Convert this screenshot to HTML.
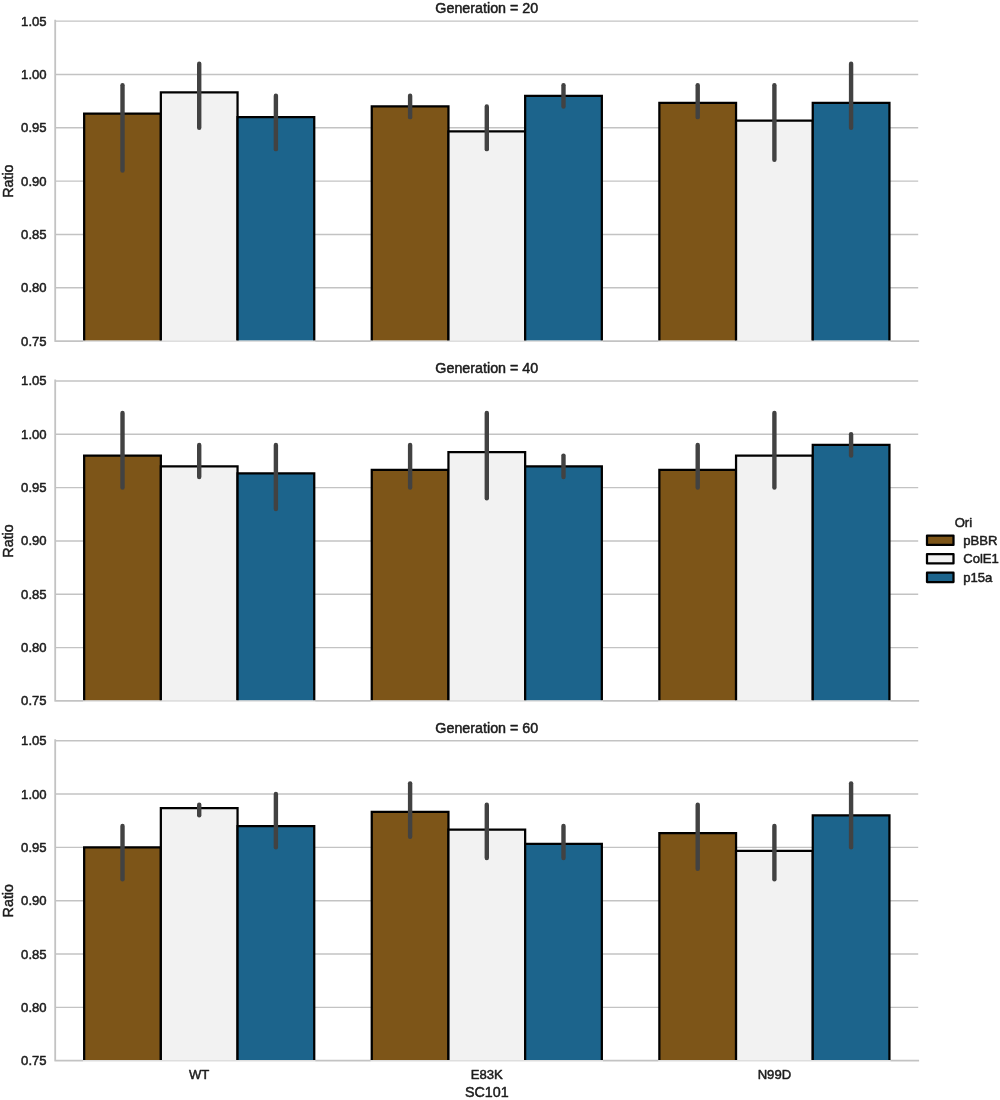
<!DOCTYPE html>
<html lang="en">
<head>
<meta charset="utf-8">
<title>Ratio by SC101 and Ori across generations</title>
<style>
html,body{margin:0;padding:0;background:#ffffff;}
body{width:1000px;height:1100px;overflow:hidden;font-family:"Liberation Sans",Arial,Helvetica,sans-serif;}
svg{display:block;}
</style>
</head>
<body>
<svg width="1000" height="1100" viewBox="0 0 1000 1100" font-family="'Liberation Sans', Arial, Helvetica, sans-serif" fill="#1c1c1c" stroke="#1c1c1c" stroke-width="0.5" stroke-linejoin="round">
<rect width="1000" height="1100" fill="#ffffff" stroke="none"/>
<g>
<line x1="55.4" x2="918.2" y1="21.15" y2="21.15" stroke="#c3c3c3" stroke-width="1.4"/>
<line x1="55.4" x2="918.2" y1="74.48" y2="74.48" stroke="#c3c3c3" stroke-width="1.4"/>
<line x1="55.4" x2="918.2" y1="127.82" y2="127.82" stroke="#c3c3c3" stroke-width="1.4"/>
<line x1="55.4" x2="918.2" y1="181.15" y2="181.15" stroke="#c3c3c3" stroke-width="1.4"/>
<line x1="55.4" x2="918.2" y1="234.48" y2="234.48" stroke="#c3c3c3" stroke-width="1.4"/>
<line x1="55.4" x2="918.2" y1="287.82" y2="287.82" stroke="#c3c3c3" stroke-width="1.4"/>
<path d="M55.2 20.55V341.15H918.2" fill="none" stroke="#c3c3c3" stroke-width="1.8" stroke-linecap="square"/>
<rect x="84.16" y="113.63" width="76.69" height="226.82" fill="#7d5518" stroke="none"/>
<path d="M84.16 340.45V113.63H160.85V340.45" fill="none" stroke="#000000" stroke-width="2.25" stroke-linejoin="miter"/>
<rect x="160.85" y="92.3" width="76.69" height="248.15" fill="#f2f2f2" stroke="none"/>
<path d="M160.85 340.45V92.3H237.55V340.45" fill="none" stroke="#000000" stroke-width="2.25" stroke-linejoin="miter"/>
<rect x="237.55" y="117.15" width="76.69" height="223.3" fill="#1c648c" stroke="none"/>
<path d="M237.55 340.45V117.15H314.24V340.45" fill="none" stroke="#000000" stroke-width="2.25" stroke-linejoin="miter"/>
<rect x="371.76" y="106.48" width="76.69" height="233.97" fill="#7d5518" stroke="none"/>
<path d="M371.76 340.45V106.48H448.45V340.45" fill="none" stroke="#000000" stroke-width="2.25" stroke-linejoin="miter"/>
<rect x="448.45" y="131.34" width="76.69" height="209.11" fill="#f2f2f2" stroke="none"/>
<path d="M448.45 340.45V131.34H525.15V340.45" fill="none" stroke="#000000" stroke-width="2.25" stroke-linejoin="miter"/>
<rect x="525.15" y="95.82" width="76.69" height="244.63" fill="#1c648c" stroke="none"/>
<path d="M525.15 340.45V95.82H601.84V340.45" fill="none" stroke="#000000" stroke-width="2.25" stroke-linejoin="miter"/>
<rect x="659.36" y="102.96" width="76.69" height="237.49" fill="#7d5518" stroke="none"/>
<path d="M659.36 340.45V102.96H736.05V340.45" fill="none" stroke="#000000" stroke-width="2.25" stroke-linejoin="miter"/>
<rect x="736.05" y="120.67" width="76.69" height="219.78" fill="#f2f2f2" stroke="none"/>
<path d="M736.05 340.45V120.67H812.75V340.45" fill="none" stroke="#000000" stroke-width="2.25" stroke-linejoin="miter"/>
<rect x="812.75" y="102.96" width="76.69" height="237.49" fill="#1c648c" stroke="none"/>
<path d="M812.75 340.45V102.96H889.44V340.45" fill="none" stroke="#000000" stroke-width="2.25" stroke-linejoin="miter"/>
<rect x="83.03" y="340.45" width="232.33" height="2" fill="#ffffff" fill-opacity="0.45" stroke="none"/>
<rect x="370.63" y="340.45" width="232.33" height="2" fill="#ffffff" fill-opacity="0.45" stroke="none"/>
<rect x="658.23" y="340.45" width="232.33" height="2" fill="#ffffff" fill-opacity="0.45" stroke="none"/>
<line x1="122.51" x2="122.51" y1="85.15" y2="170.48" stroke="#424242" stroke-width="4.4" stroke-linecap="round"/>
<line x1="199.2" x2="199.2" y1="63.82" y2="127.82" stroke="#424242" stroke-width="4.4" stroke-linecap="round"/>
<line x1="275.89" x2="275.89" y1="95.82" y2="149.15" stroke="#424242" stroke-width="4.4" stroke-linecap="round"/>
<line x1="410.11" x2="410.11" y1="95.82" y2="117.15" stroke="#424242" stroke-width="4.4" stroke-linecap="round"/>
<line x1="486.8" x2="486.8" y1="106.48" y2="149.15" stroke="#424242" stroke-width="4.4" stroke-linecap="round"/>
<line x1="563.49" x2="563.49" y1="85.15" y2="106.48" stroke="#424242" stroke-width="4.4" stroke-linecap="round"/>
<line x1="697.71" x2="697.71" y1="85.15" y2="117.15" stroke="#424242" stroke-width="4.4" stroke-linecap="round"/>
<line x1="774.4" x2="774.4" y1="85.15" y2="159.82" stroke="#424242" stroke-width="4.4" stroke-linecap="round"/>
<line x1="851.09" x2="851.09" y1="63.82" y2="127.82" stroke="#424242" stroke-width="4.4" stroke-linecap="round"/>
<text x="46.6" y="25.65" font-size="13.1" text-anchor="end">1.05</text>
<text x="46.6" y="78.98" font-size="13.1" text-anchor="end">1.00</text>
<text x="46.6" y="132.32" font-size="13.1" text-anchor="end">0.95</text>
<text x="46.6" y="185.65" font-size="13.1" text-anchor="end">0.90</text>
<text x="46.6" y="238.98" font-size="13.1" text-anchor="end">0.85</text>
<text x="46.6" y="292.32" font-size="13.1" text-anchor="end">0.80</text>
<text x="46.6" y="345.65" font-size="13.1" text-anchor="end">0.75</text>
<text transform="translate(13.2 181.15) rotate(-90)" font-size="14.3" text-anchor="middle">Ratio</text>
<text x="486.8" y="13.15" font-size="14.3" text-anchor="middle">Generation = 20</text>
</g>
<g>
<line x1="55.4" x2="918.2" y1="380.95" y2="380.95" stroke="#c3c3c3" stroke-width="1.4"/>
<line x1="55.4" x2="918.2" y1="434.28" y2="434.28" stroke="#c3c3c3" stroke-width="1.4"/>
<line x1="55.4" x2="918.2" y1="487.62" y2="487.62" stroke="#c3c3c3" stroke-width="1.4"/>
<line x1="55.4" x2="918.2" y1="540.95" y2="540.95" stroke="#c3c3c3" stroke-width="1.4"/>
<line x1="55.4" x2="918.2" y1="594.28" y2="594.28" stroke="#c3c3c3" stroke-width="1.4"/>
<line x1="55.4" x2="918.2" y1="647.62" y2="647.62" stroke="#c3c3c3" stroke-width="1.4"/>
<path d="M55.2 380.35V700.95H918.2" fill="none" stroke="#c3c3c3" stroke-width="1.8" stroke-linecap="square"/>
<rect x="84.16" y="455.62" width="76.69" height="244.63" fill="#7d5518" stroke="none"/>
<path d="M84.16 700.25V455.62H160.85V700.25" fill="none" stroke="#000000" stroke-width="2.25" stroke-linejoin="miter"/>
<rect x="160.85" y="466.28" width="76.69" height="233.97" fill="#f2f2f2" stroke="none"/>
<path d="M160.85 700.25V466.28H237.55V700.25" fill="none" stroke="#000000" stroke-width="2.25" stroke-linejoin="miter"/>
<rect x="237.55" y="473.43" width="76.69" height="226.82" fill="#1c648c" stroke="none"/>
<path d="M237.55 700.25V473.43H314.24V700.25" fill="none" stroke="#000000" stroke-width="2.25" stroke-linejoin="miter"/>
<rect x="371.76" y="469.8" width="76.69" height="230.45" fill="#7d5518" stroke="none"/>
<path d="M371.76 700.25V469.8H448.45V700.25" fill="none" stroke="#000000" stroke-width="2.25" stroke-linejoin="miter"/>
<rect x="448.45" y="452.1" width="76.69" height="248.15" fill="#f2f2f2" stroke="none"/>
<path d="M448.45 700.25V452.1H525.15V700.25" fill="none" stroke="#000000" stroke-width="2.25" stroke-linejoin="miter"/>
<rect x="525.15" y="466.28" width="76.69" height="233.97" fill="#1c648c" stroke="none"/>
<path d="M525.15 700.25V466.28H601.84V700.25" fill="none" stroke="#000000" stroke-width="2.25" stroke-linejoin="miter"/>
<rect x="659.36" y="469.8" width="76.69" height="230.45" fill="#7d5518" stroke="none"/>
<path d="M659.36 700.25V469.8H736.05V700.25" fill="none" stroke="#000000" stroke-width="2.25" stroke-linejoin="miter"/>
<rect x="736.05" y="455.62" width="76.69" height="244.63" fill="#f2f2f2" stroke="none"/>
<path d="M736.05 700.25V455.62H812.75V700.25" fill="none" stroke="#000000" stroke-width="2.25" stroke-linejoin="miter"/>
<rect x="812.75" y="444.95" width="76.69" height="255.3" fill="#1c648c" stroke="none"/>
<path d="M812.75 700.25V444.95H889.44V700.25" fill="none" stroke="#000000" stroke-width="2.25" stroke-linejoin="miter"/>
<rect x="83.03" y="700.25" width="232.33" height="2" fill="#ffffff" fill-opacity="0.45" stroke="none"/>
<rect x="370.63" y="700.25" width="232.33" height="2" fill="#ffffff" fill-opacity="0.45" stroke="none"/>
<rect x="658.23" y="700.25" width="232.33" height="2" fill="#ffffff" fill-opacity="0.45" stroke="none"/>
<line x1="122.51" x2="122.51" y1="412.95" y2="487.62" stroke="#424242" stroke-width="4.4" stroke-linecap="round"/>
<line x1="199.2" x2="199.2" y1="444.95" y2="476.95" stroke="#424242" stroke-width="4.4" stroke-linecap="round"/>
<line x1="275.89" x2="275.89" y1="444.95" y2="508.95" stroke="#424242" stroke-width="4.4" stroke-linecap="round"/>
<line x1="410.11" x2="410.11" y1="444.95" y2="487.62" stroke="#424242" stroke-width="4.4" stroke-linecap="round"/>
<line x1="486.8" x2="486.8" y1="412.95" y2="498.28" stroke="#424242" stroke-width="4.4" stroke-linecap="round"/>
<line x1="563.49" x2="563.49" y1="455.62" y2="476.95" stroke="#424242" stroke-width="4.4" stroke-linecap="round"/>
<line x1="697.71" x2="697.71" y1="444.95" y2="487.62" stroke="#424242" stroke-width="4.4" stroke-linecap="round"/>
<line x1="774.4" x2="774.4" y1="412.95" y2="487.62" stroke="#424242" stroke-width="4.4" stroke-linecap="round"/>
<line x1="851.09" x2="851.09" y1="434.28" y2="455.62" stroke="#424242" stroke-width="4.4" stroke-linecap="round"/>
<text x="46.6" y="385.45" font-size="13.1" text-anchor="end">1.05</text>
<text x="46.6" y="438.78" font-size="13.1" text-anchor="end">1.00</text>
<text x="46.6" y="492.12" font-size="13.1" text-anchor="end">0.95</text>
<text x="46.6" y="545.45" font-size="13.1" text-anchor="end">0.90</text>
<text x="46.6" y="598.78" font-size="13.1" text-anchor="end">0.85</text>
<text x="46.6" y="652.12" font-size="13.1" text-anchor="end">0.80</text>
<text x="46.6" y="705.45" font-size="13.1" text-anchor="end">0.75</text>
<text transform="translate(13.2 540.95) rotate(-90)" font-size="14.3" text-anchor="middle">Ratio</text>
<text x="486.8" y="372.95" font-size="14.3" text-anchor="middle">Generation = 40</text>
</g>
<g>
<line x1="55.4" x2="918.2" y1="740.7" y2="740.7" stroke="#c3c3c3" stroke-width="1.4"/>
<line x1="55.4" x2="918.2" y1="794.03" y2="794.03" stroke="#c3c3c3" stroke-width="1.4"/>
<line x1="55.4" x2="918.2" y1="847.37" y2="847.37" stroke="#c3c3c3" stroke-width="1.4"/>
<line x1="55.4" x2="918.2" y1="900.7" y2="900.7" stroke="#c3c3c3" stroke-width="1.4"/>
<line x1="55.4" x2="918.2" y1="954.03" y2="954.03" stroke="#c3c3c3" stroke-width="1.4"/>
<line x1="55.4" x2="918.2" y1="1007.37" y2="1007.37" stroke="#c3c3c3" stroke-width="1.4"/>
<path d="M55.2 740.1V1060.7H918.2" fill="none" stroke="#c3c3c3" stroke-width="1.8" stroke-linecap="square"/>
<rect x="84.16" y="847.37" width="76.69" height="212.63" fill="#7d5518" stroke="none"/>
<path d="M84.16 1060V847.37H160.85V1060" fill="none" stroke="#000000" stroke-width="2.25" stroke-linejoin="miter"/>
<rect x="160.85" y="808.22" width="76.69" height="251.78" fill="#f2f2f2" stroke="none"/>
<path d="M160.85 1060V808.22H237.55V1060" fill="none" stroke="#000000" stroke-width="2.25" stroke-linejoin="miter"/>
<rect x="237.55" y="826.03" width="76.69" height="233.97" fill="#1c648c" stroke="none"/>
<path d="M237.55 1060V826.03H314.24V1060" fill="none" stroke="#000000" stroke-width="2.25" stroke-linejoin="miter"/>
<rect x="371.76" y="811.85" width="76.69" height="248.15" fill="#7d5518" stroke="none"/>
<path d="M371.76 1060V811.85H448.45V1060" fill="none" stroke="#000000" stroke-width="2.25" stroke-linejoin="miter"/>
<rect x="448.45" y="829.55" width="76.69" height="230.45" fill="#f2f2f2" stroke="none"/>
<path d="M448.45 1060V829.55H525.15V1060" fill="none" stroke="#000000" stroke-width="2.25" stroke-linejoin="miter"/>
<rect x="525.15" y="843.85" width="76.69" height="216.15" fill="#1c648c" stroke="none"/>
<path d="M525.15 1060V843.85H601.84V1060" fill="none" stroke="#000000" stroke-width="2.25" stroke-linejoin="miter"/>
<rect x="659.36" y="833.18" width="76.69" height="226.82" fill="#7d5518" stroke="none"/>
<path d="M659.36 1060V833.18H736.05V1060" fill="none" stroke="#000000" stroke-width="2.25" stroke-linejoin="miter"/>
<rect x="736.05" y="850.89" width="76.69" height="209.11" fill="#f2f2f2" stroke="none"/>
<path d="M736.05 1060V850.89H812.75V1060" fill="none" stroke="#000000" stroke-width="2.25" stroke-linejoin="miter"/>
<rect x="812.75" y="815.37" width="76.69" height="244.63" fill="#1c648c" stroke="none"/>
<path d="M812.75 1060V815.37H889.44V1060" fill="none" stroke="#000000" stroke-width="2.25" stroke-linejoin="miter"/>
<rect x="83.03" y="1060" width="232.33" height="2" fill="#ffffff" fill-opacity="0.45" stroke="none"/>
<rect x="370.63" y="1060" width="232.33" height="2" fill="#ffffff" fill-opacity="0.45" stroke="none"/>
<rect x="658.23" y="1060" width="232.33" height="2" fill="#ffffff" fill-opacity="0.45" stroke="none"/>
<line x1="122.51" x2="122.51" y1="826.03" y2="879.37" stroke="#424242" stroke-width="4.4" stroke-linecap="round"/>
<line x1="199.2" x2="199.2" y1="804.7" y2="815.37" stroke="#424242" stroke-width="4.4" stroke-linecap="round"/>
<line x1="275.89" x2="275.89" y1="794.03" y2="847.37" stroke="#424242" stroke-width="4.4" stroke-linecap="round"/>
<line x1="410.11" x2="410.11" y1="783.37" y2="836.7" stroke="#424242" stroke-width="4.4" stroke-linecap="round"/>
<line x1="486.8" x2="486.8" y1="804.7" y2="858.03" stroke="#424242" stroke-width="4.4" stroke-linecap="round"/>
<line x1="563.49" x2="563.49" y1="826.03" y2="858.03" stroke="#424242" stroke-width="4.4" stroke-linecap="round"/>
<line x1="697.71" x2="697.71" y1="804.7" y2="868.7" stroke="#424242" stroke-width="4.4" stroke-linecap="round"/>
<line x1="774.4" x2="774.4" y1="826.03" y2="879.37" stroke="#424242" stroke-width="4.4" stroke-linecap="round"/>
<line x1="851.09" x2="851.09" y1="783.37" y2="847.37" stroke="#424242" stroke-width="4.4" stroke-linecap="round"/>
<text x="46.6" y="745.2" font-size="13.1" text-anchor="end">1.05</text>
<text x="46.6" y="798.53" font-size="13.1" text-anchor="end">1.00</text>
<text x="46.6" y="851.87" font-size="13.1" text-anchor="end">0.95</text>
<text x="46.6" y="905.2" font-size="13.1" text-anchor="end">0.90</text>
<text x="46.6" y="958.53" font-size="13.1" text-anchor="end">0.85</text>
<text x="46.6" y="1011.87" font-size="13.1" text-anchor="end">0.80</text>
<text x="46.6" y="1065.2" font-size="13.1" text-anchor="end">0.75</text>
<text transform="translate(13.2 900.7) rotate(-90)" font-size="14.3" text-anchor="middle">Ratio</text>
<text x="486.8" y="732.7" font-size="14.3" text-anchor="middle">Generation = 60</text>
</g>
<text x="199.2" y="1079.4" font-size="13.1" text-anchor="middle">WT</text>
<text x="486.8" y="1079.4" font-size="13.1" text-anchor="middle">E83K</text>
<text x="774.4" y="1079.4" font-size="13.1" text-anchor="middle">N99D</text>
<text x="486.8" y="1096.8" font-size="14.3" text-anchor="middle">SC101</text>
<text x="963.4" y="527.4" font-size="13.1" text-anchor="middle">Ori</text>
<rect x="927" y="535.5" width="26.5" height="9.4" fill="#7d5518" stroke="#000000" stroke-width="2.25"/>
<text x="963.2" y="544.8" font-size="13.1">pBBR</text>
<rect x="927" y="554" width="26.5" height="9.4" fill="#f2f2f2" stroke="#000000" stroke-width="2.25"/>
<text x="963.2" y="563.3" font-size="13.1">ColE1</text>
<rect x="927" y="572.7" width="26.5" height="9.4" fill="#1c648c" stroke="#000000" stroke-width="2.25"/>
<text x="963.2" y="582" font-size="13.1">p15a</text>
</svg>
</body>
</html>
